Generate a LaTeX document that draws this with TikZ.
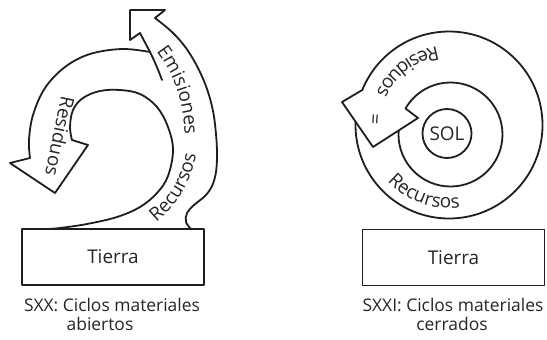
\documentclass[tikz,border=0pt]{standalone}
\usepackage{fontspec}
\setmainfont{Open Sans}
\usetikzlibrary{decorations.text,calc}
\definecolor{ink}{HTML}{1E1E1E}
\definecolor{txt}{HTML}{262626}
\newcommand\bandfont{\fontsize{19}{21}\selectfont}
\begin{document}
\begin{tikzpicture}[x=1bp,y=1bp, line join=round, line cap=round,
  lin/.style={draw=ink, line width=1.8bp},
  tbox/.style={draw=ink, line width=1.8bp, minimum width=182bp, minimum height=56bp, inner sep=0pt, font=\fontsize{19}{22}\selectfont, text=txt},
  captext/.style={font=\fontsize{17.5}{20}\selectfont, text=txt, anchor=base, inner sep=0pt},
  bandtext/.style={decorate, decoration={text along path, text align=center, text color=txt}}]
\useasboundingbox (0,0) rectangle (547,339);
\fill[white] (0,0) rectangle (547,339);

% ---------------- left: open cycles ----------------
\node[tbox] (tierraL) at (113,82) {Tierra};
\node[captext] (capL1) at (112,28) {SXX: Ciclos materiales};
\node[captext] (capL2) at (100,9) {abiertos};

% outer edge of the Recursos / Emisiones band
\draw[lin] plot[smooth, tension=0.6] coordinates {(191,110) (186,117) (187,126) (194,134) (205,143) (212,153) (216,167) (217,185) (216,205) (213,228) (207,250) (198,271) (186,291) (172,307) (155,321)};
% Emisiones arrowhead
\draw[lin] (155,321) -- (165,329) -- (130,329) -- (130,299) -- (140,306);
% inner edge of Emisiones branch (free end)
\coordinate (split) at (150,287);
\draw[lin] (140,306) -- (split) .. controls (154,279) and (158,270) .. (162,259);
% outer edge of Residuos branch
\draw[lin] plot[smooth, tension=0.6] coordinates {(150,287) (122,290) (90,285) (65,272) (45,251) (33,224) (29,199) (30,181)};
% Residuos arrowhead
\draw[lin] (30,181) -- (10,176) -- (55,146) -- (88,194) -- (72,199);
% inner spiral edge
\draw[lin] plot[smooth, tension=0.6] coordinates {(72,199) (70,212) (73,229) (83,241) (100,248) (120,249) (140,245) (157,232) (168,212) (173,189) (168,163) (157,146) (140,132) (117,122) (87,115) (60,111) (48,110)};

% labels along the bands
\path[bandtext, decoration={text={|\bandfont|Residuos}}] (65,262) .. controls (58,225) and (49,185) .. (41,146);
\path[bandtext, decoration={text={|\bandfont|Emisiones}}] (143,303) .. controls (176,268) and (186,236) .. (185,184);
\path[bandtext, decoration={text={|\bandfont|Recursos}}] (134,102) .. controls (175,124) and (199,160) .. (198,211);

% ---------------- right: closed cycles ----------------
\coordinate (O) at (449,214);
\coordinate (M) at (450.5,204.5);
\draw[lin] (O) circle[radius=93.5];
\draw[lin] (M) circle[radius=52];
\node[draw=ink, line width=1.8bp, circle, minimum size=49bp, inner sep=0pt, font=\fontsize{19}{22}\selectfont, text=txt] (sol) at (447,205.5) {SOL};

\coordinate (hA) at ($(O)+(158:93.5)$);
\coordinate (hB) at (342,237);
\coordinate (hC) at (373,192);
\coordinate (hD) at (418,221);
\coordinate (hE) at ($(M)+(150:52)$);
\fill[white] (hA) -- (hB) -- (hC) -- (hD) -- (hE) -- cycle;
\draw[lin] (hA) -- (hB) -- (hC) -- (hD) -- (hE);

\path[bandtext, decoration={text={|\bandfont|Residuos}}] ($(O)+(80:79)$) arc[start angle=80, end angle=175, radius=79];
\node[font=\bandfont, text=txt, rotate=-94] (eq) at ($(O)+(176:76)$) {=};
\path[bandtext, decoration={text={|\bandfont|Recursos}}] ($(O)+(205:83)$) arc[start angle=205, end angle=295, radius=83];

\node[tbox] (tierraR) at (453.5,81.5) {Tierra};
\node[captext] (capR1) at (453,28) {SXXI: Ciclos materiales};
\node[captext] (capR2) at (452,9) {cerrados};
\end{tikzpicture}
\end{document}
